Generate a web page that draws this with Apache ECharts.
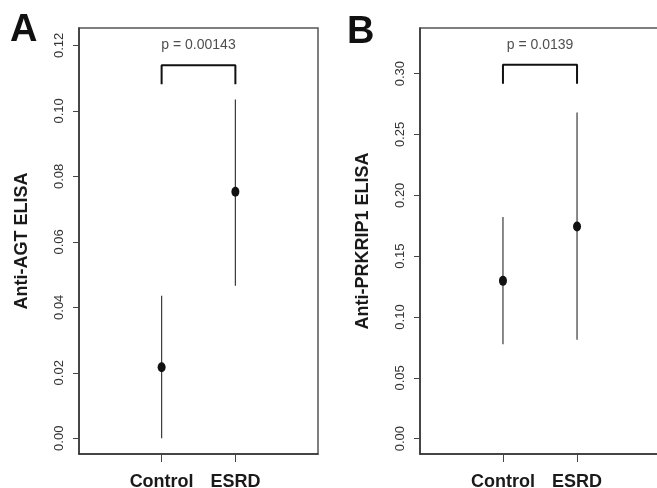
<!DOCTYPE html>
<html>
<head>
<meta charset="utf-8">
<script src="https://cdn.jsdelivr.net/npm/echarts@6/dist/echarts.min.js"></script>
<style>
html,body{margin:0;padding:0;background:#fff;}
#chart{width:657px;height:488px;}
</style>
</head>
<body>
<div id="chart"></div>
<script>
// ---- data ----
var categories = ['Control', 'ESRD'];
var catPos = [1, 2];

var agtMean = [0.0217, 0.0753];
var agtLow  = [0.0000, 0.0466];
var agtHigh = [0.0435, 0.1035];
var agtTicks = [0, 0.02, 0.04, 0.06, 0.08, 0.10, 0.12];
var agtBracketTop = 0.1139, agtBracketLeg = 0.1081;
var agtP = 'p = 0.00143', agtPY = 0.1200;

var prkMean = [0.1297, 0.1743];
var prkLow  = [0.0776, 0.0812];
var prkHigh = [0.1821, 0.2681];
var prkTicks = [0, 0.05, 0.10, 0.15, 0.20, 0.25, 0.30];
var prkBracketTop = 0.3073, prkBracketLeg = 0.2916;
var prkP = 'p = 0.0139', prkPY = 0.3237;

var FONT = "'Liberation Sans', Arial, Helvetica, sans-serif";

function xAxisCfg(gi) {
  return {
    gridIndex: gi, type: 'value', min: -0.12, max: 3.12, position: 'bottom',
    splitLine: {show: false},
    axisLine: {show: true, onZero: false, lineStyle: {color: '#333', width: 1.5}},
    axisTick: {show: true, inside: false, customValues: catPos, length: 8, lineStyle: {color: '#444', width: 1}},
    axisLabel: {
      show: true, inside: false, customValues: catPos, margin: 19,
      fontFamily: FONT, fontWeight: 'bold', fontSize: 18, color: '#1a1a1a',
      formatter: function (v) { var i = catPos.indexOf(Math.round(v)); return i >= 0 ? categories[i] : ''; }
    }
  };
}
function yAxisCfg(gi, mn, mx, ticks, name) {
  return {
    gridIndex: gi, type: 'value', min: mn, max: mx, position: 'left',
    name: name, nameLocation: 'middle', nameGap: 48, nameRotate: 90,
    nameTextStyle: {fontFamily: FONT, fontWeight: 'bold', fontSize: 18, color: '#1a1a1a'},
    splitLine: {show: false},
    axisLine: {show: true, onZero: false, lineStyle: {color: '#333', width: 1.5}},
    axisTick: {show: true, inside: false, customValues: ticks, length: 6, lineStyle: {color: '#444', width: 1}},
    axisLabel: {
      show: true, inside: false, customValues: ticks, rotate: 90, margin: 13,
      fontFamily: FONT, fontSize: 13, color: '#333',
      formatter: function (v) { return v.toFixed(2); }
    }
  };
}

function whiskerSeries(gi, low, high) {
  return {
    type: 'custom', xAxisIndex: gi, yAxisIndex: gi,
    data: catPos.map(function (x, i) { return [x, low[i], high[i]]; }),
    renderItem: function (params, api) {
      var p1 = api.coord([api.value(0), api.value(1)]);
      var p2 = api.coord([api.value(0), api.value(2)]);
      return {type: 'line', shape: {x1: p1[0], y1: p1[1], x2: p2[0], y2: p2[1]},
              style: {stroke: '#3a3a3a', lineWidth: 1.2}};
    },
    silent: true, z: 2
  };
}
function meanSeries(gi, mean) {
  return {
    type: 'scatter', xAxisIndex: gi, yAxisIndex: gi,
    data: catPos.map(function (x, i) { return [x, mean[i]]; }),
    symbol: 'circle', symbolSize: [8, 10],
    itemStyle: {color: '#111', opacity: 1}, silent: true, z: 3
  };
}
function bracketSeries(gi, top, leg) {
  return {
    type: 'line', xAxisIndex: gi, yAxisIndex: gi,
    data: [[catPos[0], leg], [catPos[0], top], [catPos[1], top], [catPos[1], leg]],
    symbol: 'none', lineStyle: {color: '#111', width: 2}, silent: true, z: 3
  };
}
function pSeries(gi, txt, y) {
  return {
    type: 'scatter', xAxisIndex: gi, yAxisIndex: gi,
    data: [[(catPos[0] + catPos[1]) / 2, y]], symbolSize: 0,
    label: {show: true, position: 'inside', formatter: txt, fontFamily: FONT, fontSize: 14, color: '#222'},
    silent: true, z: 3
  };
}

var chart = echarts.init(document.getElementById('chart'), null, {renderer: 'canvas'});
chart.setOption({
  backgroundColor: '#fff',
  animation: false,
  grid: [
    {left: 79, top: 28, width: 239, height: 426, outerBoundsMode: 'none', containLabel: false, show: true, borderColor: '#555', borderWidth: 1.5, backgroundColor: 'transparent'},
    {left: 420, top: 28, width: 240, height: 426, outerBoundsMode: 'none', containLabel: false, show: true, borderColor: '#555', borderWidth: 1.5, backgroundColor: 'transparent'}
  ],
  xAxis: [xAxisCfg(0), xAxisCfg(1)],
  yAxis: [
    yAxisCfg(0, -0.0048, 0.1253, agtTicks, 'Anti-AGT ELISA'),
    yAxisCfg(1, -0.0126, 0.3375, prkTicks, 'Anti-PRKRIP1 ELISA')
  ],
  graphic: [
    {type: 'text', left: 10, top: 12, style: {text: 'A', font: 'bold 38px ' + FONT, fill: '#111'}},
    {type: 'text', left: 347, top: 14, style: {text: 'B', font: 'bold 38px ' + FONT, fill: '#111'}}
  ],
  series: [
    whiskerSeries(0, agtLow, agtHigh), meanSeries(0, agtMean), bracketSeries(0, agtBracketTop, agtBracketLeg), pSeries(0, agtP, agtPY),
    whiskerSeries(1, prkLow, prkHigh), meanSeries(1, prkMean), bracketSeries(1, prkBracketTop, prkBracketLeg), pSeries(1, prkP, prkPY)
  ]
});
</script>
</body>
</html>
